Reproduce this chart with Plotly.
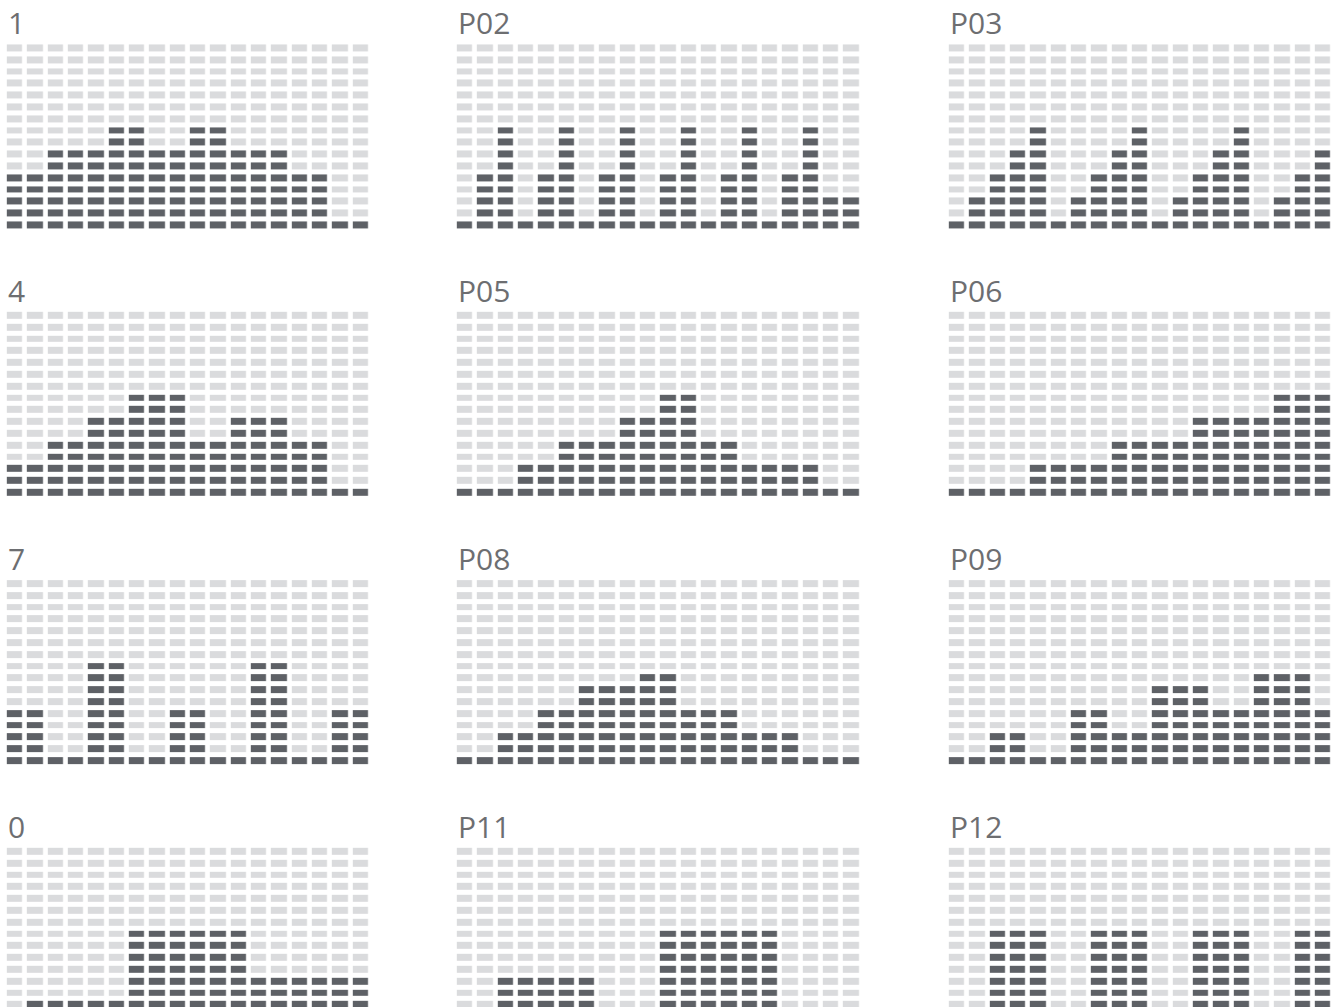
import plotly.graph_objects as go

# ---------------- data ----------------
labels = ["1", "P02", "P03", "4", "P05", "P06", "7", "P08", "P09", "0", "P11", "P12"]
n_levels = 16

p01 = [5, 5, 7, 7, 7, 9, 9, 7, 7, 9, 9, 7, 7, 7, 5, 5, 1, 1]
p02 = [1, 5, 9, 1, 5, 9, 1, 5, 9, 1, 5, 9, 1, 5, 9, 1, 5, 9, 3, 3]
p03 = [1, 3, 5, 7, 9, 1, 3, 5, 7, 9, 1, 3, 5, 7, 9, 1, 3, 5, 7]
p04 = [3, 3, 5, 5, 7, 7, 9, 9, 9, 5, 5, 7, 7, 7, 5, 5, 1, 1]
p05 = [1, 1, 1, 3, 3, 5, 5, 5, 7, 7, 9, 9, 5, 5, 3, 3, 3, 3, 1, 1]
p06 = [1, 1, 1, 1, 3, 3, 3, 3, 5, 5, 5, 5, 7, 7, 7, 7, 9, 9, 9]
p07 = [5, 5, 1, 1, 9, 9, 1, 1, 5, 5, 1, 1, 9, 9, 1, 1, 5, 5]
p08 = [1, 1, 3, 3, 5, 5, 7, 7, 7, 8, 8, 5, 5, 5, 3, 3, 3, 1, 1, 1]
p09 = [1, 1, 3, 3, 1, 1, 5, 5, 3, 3, 7, 7, 7, 5, 5, 8, 8, 8, 5]
p10 = [1, 3, 3, 3, 3, 3, 9, 9, 9, 9, 9, 9, 5, 5, 5, 5, 5, 5]
p11 = [1, 1, 5, 5, 5, 5, 5, 1, 1, 1, 9, 9, 9, 9, 9, 9, 1, 1, 1, 1]
p12 = [1, 1, 9, 9, 9, 1, 1, 9, 9, 9, 1, 1, 9, 9, 9, 1, 1, 9, 9]

panels = [p01, p02, p03, p04, p05, p06, p07, p08, p09, p10, p11, p12]

# ---------------- layout geometry (pixels) ----------------
W, H = 1338, 1007
col_pitch = 20.33
row_pitch = 11.8
col_left = [4.8, 454.8, 946.8]
row_top = [42.4, 309.8, 578.1, 845.8]

DARK = "#5e6166"
LIGHT = "#dadbdd"
TEXT = "#6d6e71"

fig = go.Figure()
annotations = []
layout_axes = {}

for i, (lab, vals) in enumerate(zip(labels, panels)):
    r, c = divmod(i, 3)
    n = len(vals)
    x0 = col_left[c]
    x1 = x0 + n * col_pitch
    y0 = row_top[r]
    y1 = min(y0 + n_levels * row_pitch, H)
    vis_rows = (y1 - y0) / row_pitch
    z = [[1 if lev < v else 0 for v in vals] for lev in range(n_levels)]
    k = i + 1
    xa = "x" if k == 1 else f"x{k}"
    ya = "y" if k == 1 else f"y{k}"
    fig.add_trace(go.Heatmap(
        z=z, x=list(range(n)), y=list(range(n_levels)),
        xaxis=xa, yaxis=ya,
        colorscale=[[0, LIGHT], [1, DARK]], zmin=0, zmax=1,
        showscale=False, xgap=4.8, ygap=5, hoverinfo="skip",
    ))
    xkey = "xaxis" if k == 1 else f"xaxis{k}"
    ykey = "yaxis" if k == 1 else f"yaxis{k}"
    layout_axes[xkey] = dict(
        domain=[x0 / W, x1 / W], range=[-0.5, n - 0.5], visible=False,
        anchor=ya, fixedrange=True,
    )
    top_val = n_levels - 0.5
    layout_axes[ykey] = dict(
        domain=[1 - y1 / H, 1 - y0 / H], range=[top_val - vis_rows, top_val],
        visible=False, anchor=xa, fixedrange=True,
    )
    annotations.append(dict(
        text=lab, xref="paper", yref="paper",
        x=(x0 + 1.5) / W, y=1 - (y0 - 19.5) / H,
        xanchor="left", yanchor="middle", showarrow=False,
        font=dict(family="Open Sans", size=30, color=TEXT),
    ))

fig.update_layout(
    width=W, height=H,
    margin=dict(l=0, r=0, t=0, b=0),
    paper_bgcolor="white", plot_bgcolor="white",
    annotations=annotations,
    showlegend=False,
    **layout_axes,
)

fig.write_html(
    "out.html",
    config={"displayModeBar": False},
    post_script="document.body.style.margin='0';document.body.style.overflow='hidden';",
)
